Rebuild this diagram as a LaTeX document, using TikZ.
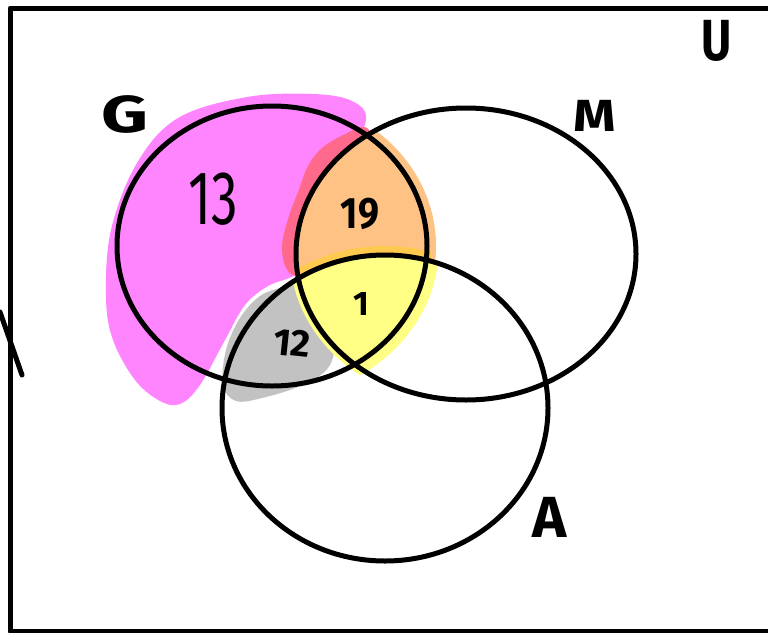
\documentclass[tikz,border=0pt]{standalone}
\usepackage{fontspec}
\setmainfont{Fira Sans}
\definecolor{pinkc}{HTML}{FF85FF}
\definecolor{redc}{HTML}{FF6A8C}
\definecolor{orangec}{HTML}{FFC285}
\definecolor{yellowc}{HTML}{FFFF85}
\definecolor{grayc}{HTML}{C2C2C2}
\definecolor{goldc}{HTML}{FFC94F}
\begin{document}
\begin{tikzpicture}[x=1pt,y=-1pt,line cap=round,line join=round,
  outline/.style={draw=black,line width=5pt},
  lbl/.style={inner sep=0pt,font=\bfseries}]
\useasboundingbox (0,0) rectangle (768,632);
\clip (0,0) rectangle (768,632);
\fill[white] (0,0) rectangle (768,632);
% pink blob
\fill[pinkc] plot[smooth cycle,tension=0.6] coordinates {(247,97) (313,94) (352,101) (366,120) (345,160) (310,200) (300,240) (298,272) (268,286) (245,305) (225,340) (200,385) (180,404) (160,401) (135,380) (113,340) (106,297) (111,230) (137,163) (178,118)};
% red smudge
\fill[redc] plot[smooth cycle,tension=0.6] coordinates {(364,127) (345,134) (322,148) (308,166) (298,192) (289,216) (282,245) (286,268) (297,274) (303,240) (318,192) (343,160) (368,136)};
% gray blob
\fill[grayc] plot[smooth cycle,tension=0.6] coordinates {(283,287) (260,296) (240,318) (226,350) (223,385) (236,401) (262,398) (300,386) (328,368) (333,340) (315,300) (300,283)};
% orange: G and M
\begin{scope}
\clip (272,246) ellipse [x radius=164pt,y radius=149pt];
\clip (466,254) ellipse [x radius=172pt,y radius=148pt];
\fill[orangec] (0,0) rectangle (768,632);
\end{scope}
% yellow: G, M and A
\begin{scope}
\clip (272,246) ellipse [x radius=167pt,y radius=152pt];
\clip (466,254) ellipse [x radius=176pt,y radius=152pt];
\clip (385,408) ellipse [x radius=165pt,y radius=155pt];
\fill[yellowc] (0,0) rectangle (768,632);
\end{scope}
% gold band
\begin{scope}
\clip (272,246) ellipse [x radius=160pt,y radius=145pt];
\clip (466,254) ellipse [x radius=170pt,y radius=146pt];
\draw[goldc,line width=8pt] (385,408) ellipse [x radius=168pt,y radius=158pt];
\end{scope}
% outlines
\draw[outline] (10,8) rectangle (790,631);
\draw[outline] (272,246) ellipse [x radius=155pt,y radius=140pt];
\draw[outline] (466,254) ellipse [x radius=170pt,y radius=146pt];
\draw[outline] (385,408) ellipse [x radius=163pt,y radius=153pt];
\coordinate (s1) at (0,312);
\coordinate (s2) at (22,375);
\draw[outline] (s1) -- (s2);
% labels
\node[lbl,font=\bfseries\fontsize{52}{52}\selectfont,xscale=1.4] (lG) at (125,114) {G};
\node[lbl,font=\bfseries\fontsize{45}{45}\selectfont,xscale=1.2] (lM) at (595,116) {M};
\node[lbl,font=\bfseries\fontsize{58}{58}\selectfont,xscale=0.8] (lU) at (717,41) {U};
\node[lbl,font=\bfseries\fontsize{58}{58}\selectfont] (lA) at (550,517) {A};
\node[lbl,font=\mdseries\fontsize{76}{76}\selectfont,xscale=0.7] (n13) at (213,199) {13};
\node[lbl,font=\bfseries\fontsize{44}{44}\selectfont,xscale=0.85] (n19) at (360,214) {19};
\node[lbl,font=\bfseries\fontsize{34}{34}\selectfont] (n1) at (361,304) {1};
\node[lbl,font=\bfseries\fontsize{38}{38}\selectfont,rotate=-6] (n12) at (292,343) {12};
\end{tikzpicture}
\end{document}
